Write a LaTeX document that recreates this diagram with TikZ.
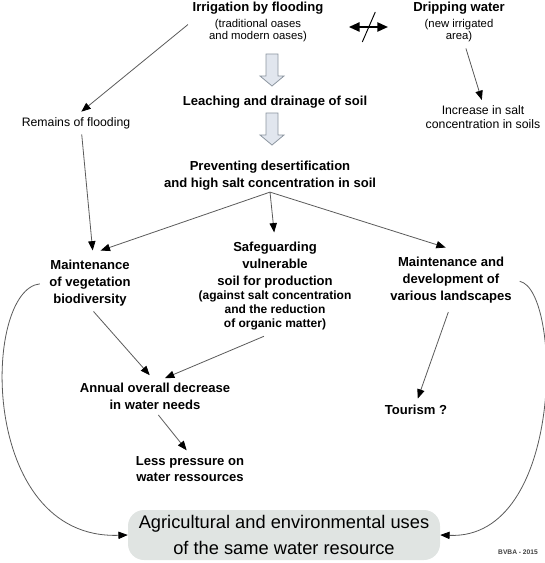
\documentclass[tikz,border=0pt]{standalone}
\usepackage{fontspec}
\setmainfont{Liberation Sans}
\usetikzlibrary{arrows.meta,calc}

\definecolor{linegrey}{HTML}{5A5A5A}
\definecolor{blockfill}{HTML}{E1E6EE}
\definecolor{blockedge}{HTML}{8C96A0}
\definecolor{goalfill}{HTML}{E0E4E2}

\newcommand\notefont{\mdseries\fontsize{8.5}{9}\selectfont}
\newcommand\safenote{\fontsize{9}{10}\selectfont}

\begin{document}
\begin{tikzpicture}[
  x=0.75pt, y=-0.75pt,
  >={Triangle[length=7pt,width=5.5pt,color=black]},
  txt/.style={align=center, inner sep=1pt, font=\bfseries\fontsize{9.8}{12.6}\selectfont},
  side/.style={align=center, inner sep=1pt, font=\fontsize{9.2}{10.6}\selectfont},
  goal/.style={rounded corners=12pt, fill=goalfill, align=center, inner sep=0pt,
               minimum width=234pt, minimum height=37.5pt, font=\fontsize{13.7}{20}\selectfont},
  link/.style={->, draw=linegrey, line width=0.6pt},
  dbl/.style={{Triangle[length=8pt,width=7pt]}-{Triangle[length=8pt,width=7pt]}, line width=1.2pt},
  blockdown/.pic={\draw[draw=blockedge, fill=blockfill, line width=0.6pt]
    (-6,0) -- (-6,22) -- (-12,22) -- (0,32) -- (12,22) -- (6,22) -- (6,0) -- cycle;},
]
\useasboundingbox (0,0) rectangle (544,563);

% top row
\node[txt] (irrig) at (258,22) {Irrigation by flooding\\[-1pt]{\notefont (traditional oases}\\[-3.5pt]{\notefont and modern oases)}};
\node[txt] (drip) at (459,22) {Dripping water\\[-1pt]{\notefont (new irrigated}\\[-3.5pt]{\notefont area)}};
\draw[dbl, shorten <=18pt, shorten >=17.8pt] ([yshift=-3.75pt]irrig.east) -- coordinate[midway] (cross) ([yshift=-3.75pt]drip.west);
\draw[line width=0.7pt] ($(cross)+(7,-15)$) -- ($(cross)+(-6,15)$);

% central column
\node[txt] (leach) at (275,102) {Leaching and drainage of soil};
\node[txt] (prevent) at (270,176) {Preventing desertification\\and high salt concentration in soil};
\pic at (272,54) {blockdown};
\pic at (272,113) {blockdown};

% side effects
\node[side] (remains) at (76,123) {Remains of flooding};
\node[side] (incr) at (483,117) {Increase in salt\\concentration in soils};

% consequences
\node[txt] (veg) at (90,283) {Maintenance\\of vegetation\\biodiversity};
\node[txt] (safe) at (275,286) {Safeguarding\\vulnerable\\soil for production\\[-2pt]{\safenote (against salt concentration}\\[-2pt]{\safenote and the reduction}\\[-2pt]{\safenote of organic matter)}};
\node[txt] (land) at (451,280) {Maintenance and\\development of\\various landscapes};
\node[txt] (annual) at (155,396) {Annual overall decrease\\in water needs};
\node[txt] (less) at (190,469) {Less pressure on\\water ressources};
\node[txt] (tourism) at (416,410) {Tourism ?};

% common resource
\node[goal] (res) at (284,535) {Agricultural and environmental uses\\of the same water resource};
\node[font=\bfseries\fontsize{5}{6}\selectfont, text=black!75, inner sep=0pt] (sign) at (518,552) {BVBA - 2015};

% arrows
\draw[link, shorten <=3pt] (irrig.west) -- ([xshift=4pt,yshift=3pt]remains.north);
\draw[link, shorten <=4pt, shorten >=3pt] ([xshift=4pt]drip.south) -- (incr.north);
\draw[link, shorten <=3pt] ([xshift=4pt]remains.south) -- ([xshift=2pt,yshift=6pt]veg.north);
\draw[link] (prevent.south) -- ([xshift=8pt,yshift=6pt]veg.north);
\draw[link, shorten >=6pt] (prevent.south) -- (safe.north);
\draw[link] (prevent.south) -- ([xshift=-4pt,yshift=6pt]land.north);
\draw[link, shorten <=4pt, shorten >=6pt] (veg.south) -- (annual.north);
\draw[link, shorten <=9pt, shorten >=6pt] (safe.south) -- ([xshift=2pt]annual.north);
\draw[link, shorten <=4pt, shorten >=4pt] (annual.south) -- (less.north);
\draw[link, shorten <=6pt, shorten >=4pt] (land.south) -- (tourism.north);
\draw[link, shorten <=6pt] (veg.west) .. controls (-18,290) and (-22,540) .. (res.west);
\draw[link, shorten <=5pt] (land.east) .. controls (562,290) and (565,540) .. (res.east);
\end{tikzpicture}
\end{document}
